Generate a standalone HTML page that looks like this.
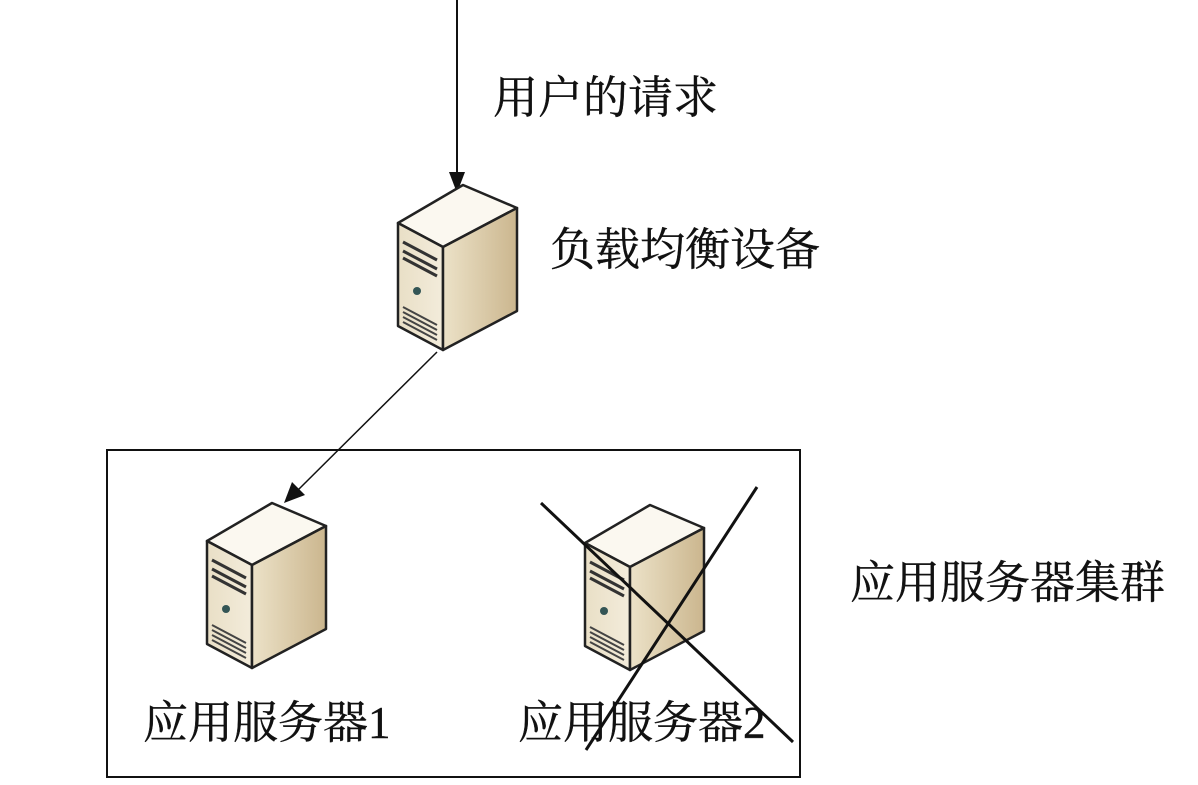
<!DOCTYPE html>
<html><head><meta charset="utf-8"><style>
html,body{margin:0;padding:0;background:#fff;}
svg{display:block}
text{font-family:"Liberation Serif","Noto Serif CJK SC",serif;font-size:45px;fill:#111;stroke:#111;stroke-width:0.4}
</style></head><body>
<svg width="1198" height="785" viewBox="0 0 1198 785" xmlns="http://www.w3.org/2000/svg">
<defs>
<linearGradient id="fr" x1="0" y1="0" x2="1" y2="0"><stop offset="0" stop-color="#e9dfc6"/><stop offset="1" stop-color="#f3ecdb"/></linearGradient>
<linearGradient id="rt" x1="0" y1="0" x2="1" y2="0"><stop offset="0" stop-color="#ece2c8"/><stop offset="1" stop-color="#cbb68e"/></linearGradient>
<g id="srv">
<polygon points="3,38 68,0 122,23 48,62" fill="#fbf8f0" stroke="#222" stroke-width="2.5" stroke-linejoin="round"/>
<polygon points="3,38 48,62 48,165 3,141" fill="url(#fr)" stroke="#222" stroke-width="2.5" stroke-linejoin="round"/>
<polygon points="48,62 122,23 122,126 48,165" fill="url(#rt)" stroke="#222" stroke-width="2.5" stroke-linejoin="round"/>
<path d="M8,57 L42,75 M8,66 L42,84 M8,73 L42,91" stroke="#333" stroke-width="3"/>
<circle cx="22" cy="106" r="4" fill="#355"/>
<path d="M8,122 L42,140 M8,127 L42,145 M8,132 L42,150 M8,137 L42,155" stroke="#444" stroke-width="2"/>
</g>
</defs>
<line x1="457" y1="0" x2="457" y2="175" stroke="#111" stroke-width="2"/>
<polygon points="449,172 465,172 457,193" fill="#111"/>
<use href="#srv" x="395" y="185"/>
<line x1="437" y1="352" x2="298" y2="490" stroke="#111" stroke-width="1.5"/>
<polygon points="284,503 292,482 305,495" fill="#111"/>
<rect x="107" y="450" width="693" height="327" fill="none" stroke="#111" stroke-width="2"/>
<use href="#srv" x="204" y="503"/>
<use href="#srv" x="582" y="505"/>
<line x1="541" y1="503" x2="793" y2="742" stroke="#111" stroke-width="3"/>
<line x1="757" y1="487" x2="586" y2="750" stroke="#111" stroke-width="3"/>
<text x="493" y="113">用户的请求</text>
<text x="550" y="265">负载均衡设备</text>
<text x="850" y="598">应用服务器集群</text>
<text x="143" y="738">应用服务器1</text>
<text x="518" y="738">应用服务器2</text>
</svg>
</body></html>
